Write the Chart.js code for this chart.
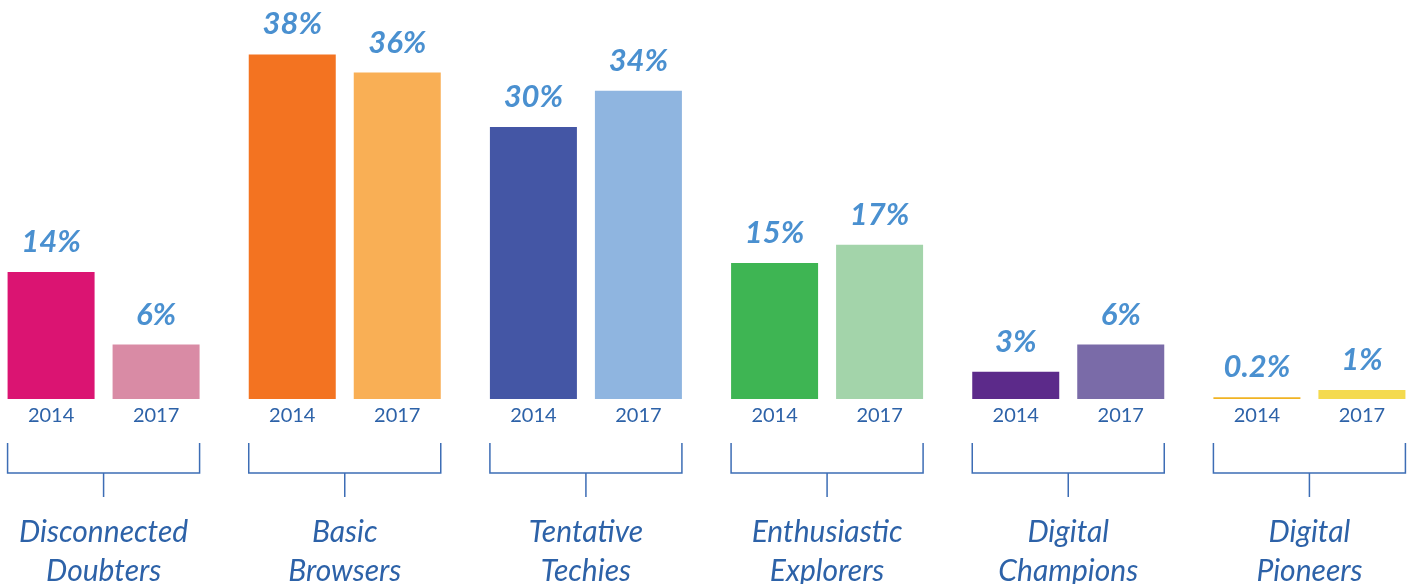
<!DOCTYPE html>
<html>
<head>
<meta charset="utf-8">
<script src="https://cdn.jsdelivr.net/npm/chart.js@4/dist/chart.umd.min.js"></script>
<style>
  html, body { margin: 0; padding: 0; background: #fff; overflow: hidden; }
  #wrap { position: absolute; left: -17px; top: 0; width: 1447px; height: 584px; }
</style>
</head>
<body>
<div id="wrap"><canvas id="grafico"></canvas></div>
<script>
// Dados
const grupos = [
    ['Disconnected', 'Doubters'],
    ['Basic', 'Browsers'],
    ['Tentative', 'Techies'],
    ['Enthusiastic', 'Explorers'],
    ['Digital', 'Champions'],
    ['Digital', 'Pioneers']
];
const anos = ['2014', '2017'];
const valores2014 = [14, 38, 30, 15, 3, 0.2];
const valores2017 = [6, 36, 34, 17, 6, 1];
const cores2014 = ['#DB1472', '#F37321', '#4456A5', '#3EB553', '#5C2A8A', '#F0B323'];
const cores2017 = ['#D98BA5', '#F9AF55', '#8FB5E0', '#A3D4AA', '#7A6BA8', '#F4DA4E'];

const corValor = '#4A90D0';
const corTexto = '#2D62A8';
const corLinha = '#3D6DB5';

// Plugin que desenha rótulos, anos, chaves e nomes dos grupos
const rotulos = {
    id: 'rotulos',
    afterDatasetsDraw(chart) {
        const ctx = chart.ctx;
        const m0 = chart.getDatasetMeta(0);
        const m1 = chart.getDatasetMeta(1);
        const xScale = chart.scales.x;
        const base = chart.scales.y.getPixelForValue(0);
        ctx.save();

        // valores acima das barras + anos
        [m0, m1].forEach((meta, di) => {
            const ds = chart.data.datasets[di];
            meta.data.forEach((bar, i) => {
                ctx.fillStyle = corValor;
                ctx.font = 'italic bold 31px Lato';
                ctx.textAlign = 'center';
                ctx.textBaseline = 'alphabetic';
                ctx.fillText(ds.data[i] + '%', bar.x, bar.y - 20);

                ctx.fillStyle = corTexto;
                ctx.font = '20px Lato';
                ctx.textBaseline = 'middle';
                ctx.fillText(anos[di], bar.x, base + 17);
            });
        });

        // chaves
        ctx.strokeStyle = corLinha;
        ctx.lineWidth = 1.5;
        m0.data.forEach((b0, i) => {
            const b1 = m1.data[i];
            const x0 = b0.x - b0.width / 2;
            const x1 = b1.x + b1.width / 2;
            const xc = xScale.getPixelForValue(i);
            ctx.beginPath();
            ctx.moveTo(x0, base + 44);
            ctx.lineTo(x0, base + 74);
            ctx.lineTo(x1, base + 74);
            ctx.lineTo(x1, base + 44);
            ctx.moveTo(xc, base + 74);
            ctx.lineTo(xc, base + 98);
            ctx.stroke();

            // nome do grupo
            ctx.fillStyle = corTexto;
            ctx.font = 'italic 30px Lato';
            ctx.textAlign = 'center';
            ctx.textBaseline = 'alphabetic';
            grupos[i].forEach((linha, k) => {
                ctx.fillText(linha, xc, base + 143 + k * 39);
            });
        });
        ctx.restore();
    }
};

const ctx = document.getElementById('grafico').getContext('2d');
const grafico = new Chart(ctx, {
    type: 'bar',
    data: {
        labels: grupos,
        datasets: [
            { label: anos[0], data: valores2014, backgroundColor: cores2014, borderWidth: 0 },
            { label: anos[1], data: valores2017, backgroundColor: cores2017, borderWidth: 0 }
        ]
    },
    options: {
        responsive: true,
        maintainAspectRatio: false,
        animation: false,
        layout: { padding: { top: 0, bottom: 185, left: 0, right: 0 } },
        datasets: {
            bar: { categoryPercentage: 0.8708, barPercentage: 0.8286 }
        },
        plugins: {
            legend: { display: false },
            tooltip: { enabled: false }
        },
        scales: {
            x: { display: false },
            y: { display: false, min: 0, max: 44 }
        }
    },
    plugins: [rotulos]
});
</script>
</body>
</html>
